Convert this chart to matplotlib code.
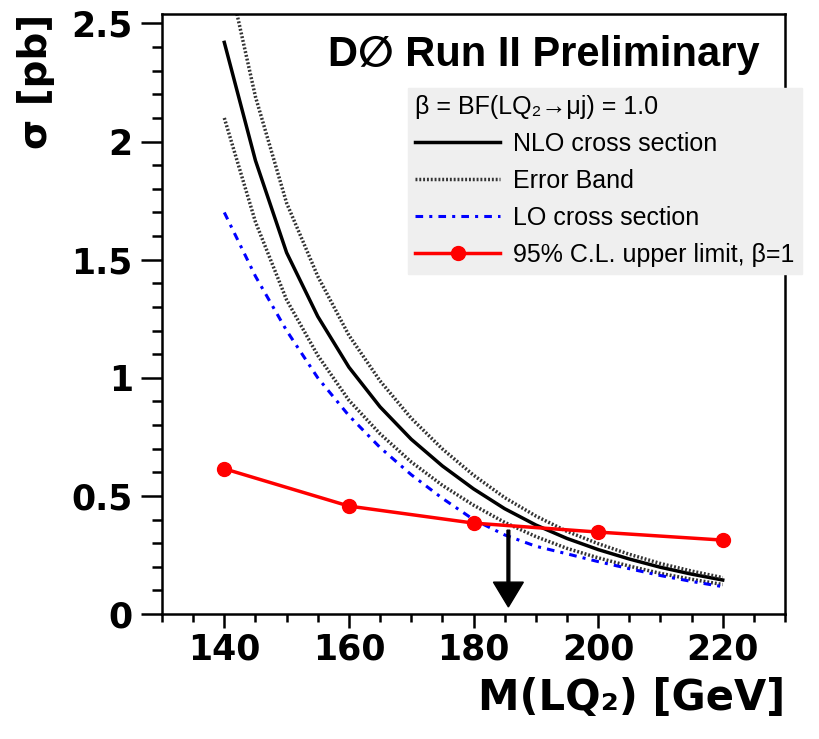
import matplotlib
matplotlib.use("Agg")
import matplotlib.pyplot as plt
from matplotlib.ticker import MultipleLocator
from matplotlib.font_manager import FontProperties

plt.rcParams['font.family'] = ['Liberation Sans', 'DejaVu Sans']

# masses [GeV] for the theory curves
mass = [140, 145, 150, 155, 160, 165, 170, 175, 180, 185, 190, 195, 200, 205, 210, 215, 220]
# NLO cross section [pb]
nlo = [2.42, 1.92, 1.53, 1.26, 1.045, 0.877, 0.74, 0.627, 0.53, 0.446, 0.377, 0.32, 0.273, 0.233, 0.198, 0.169, 0.144]
# error band (upper / lower)
band_up = [2.78, 2.19, 1.74, 1.43, 1.18, 0.987, 0.829, 0.699, 0.588, 0.493, 0.415, 0.350, 0.298, 0.253, 0.214, 0.182, 0.154]
band_lo = [2.10, 1.66, 1.33, 1.095, 0.905, 0.763, 0.644, 0.545, 0.461, 0.388, 0.328, 0.278, 0.238, 0.203, 0.172, 0.147, 0.125]
# LO cross section
lo = [1.70, 1.43, 1.20, 1.00, 0.84, 0.705, 0.59, 0.49, 0.40, 0.335, 0.287, 0.255, 0.222, 0.192, 0.163, 0.138, 0.116]

# 95% C.L. upper limit
lim_mass = [140, 160, 180, 200, 220]
lim_xsec = [0.615, 0.457, 0.385, 0.347, 0.313]

mass_limit = 185.6
arrow_top = 0.355
arrow_tip = 0.03

fig = plt.figure(figsize=(8.19, 7.39), dpi=100)
ax = fig.add_axes([0.1978, 0.1691, 0.7607, 0.8119])

ax.plot(mass, nlo, color='black', lw=2.5, label='NLO cross section')
ax.plot(mass, band_up, color='#333333', lw=2.5, ls=(0, (0.55, 0.55)), label='Error Band')
ax.plot(mass, band_lo, color='#333333', lw=2.5, ls=(0, (0.55, 0.55)))
ax.plot(mass, lo, color='blue', lw=2.2, ls=(0, (2.5, 2, 1, 2)), label='LO cross section')
ax.plot(lim_mass, lim_xsec, color='red', lw=2.5, marker='o', ms=10,
        label='95% C.L. upper limit, β=1')

ax.arrow(mass_limit, arrow_top, 0, arrow_tip - arrow_top, width=0.45,
         head_width=4.8, head_length=0.105, length_includes_head=True,
         color='black', zorder=5)

ax.set_xlim(130, 230)
ax.set_ylim(0, 2.54)
ax.xaxis.set_minor_locator(MultipleLocator(5))
ax.yaxis.set_minor_locator(MultipleLocator(0.1))
ax.set_yticks([0, 0.5, 1, 1.5, 2, 2.5])
ax.set_yticklabels(['0', '0.5', '1', '1.5', '2', '2.5'])
ax.set_xticks([140, 160, 180, 200, 220])

for s in ax.spines.values():
    s.set_linewidth(1.8)
ax.tick_params(axis='both', which='both', direction='out', width=1.8)
ax.tick_params(axis='x', which='major', length=10, pad=3)
ax.tick_params(axis='x', which='minor', length=6)
ax.tick_params(axis='y', which='major', length=15, pad=6)
ax.tick_params(axis='y', which='minor', length=7.5)
for lab in ax.get_xticklabels() + ax.get_yticklabels():
    lab.set_fontfamily('DejaVu Sans')
    lab.set_fontweight('bold')
    lab.set_fontsize(25)

ax.set_xlabel('M(LQ₂) [GeV]', fontsize=30, fontweight='bold', loc='right',
              family=['DejaVu Sans'], labelpad=8)
ax.set_ylabel('σ [pb]', fontsize=28, fontweight='bold', loc='top',
              family=['DejaVu Sans'], labelpad=12)

ax.text(0.96, 0.965, 'D∅ Run II Preliminary', transform=ax.transAxes,
        ha='right', va='top', fontsize=30, fontweight='bold')

leg = fig.legend(loc='upper left', bbox_to_anchor=(0.498, 0.881),
                 title='β = BF(LQ₂→μj) = 1.0', alignment='left',
                 fontsize=18, title_fontproperties=FontProperties(family=['Liberation Sans', 'DejaVu Sans'], size=18),
                 frameon=True, fancybox=False, framealpha=1,
                 facecolor='#efefef', edgecolor='#efefef',
                 handlelength=3.4, handletextpad=0.5, labelspacing=0.52,
                 borderpad=0.3, borderaxespad=0)
leg._legend_box.sep = 9

fig.savefig('out.png', dpi=100)
